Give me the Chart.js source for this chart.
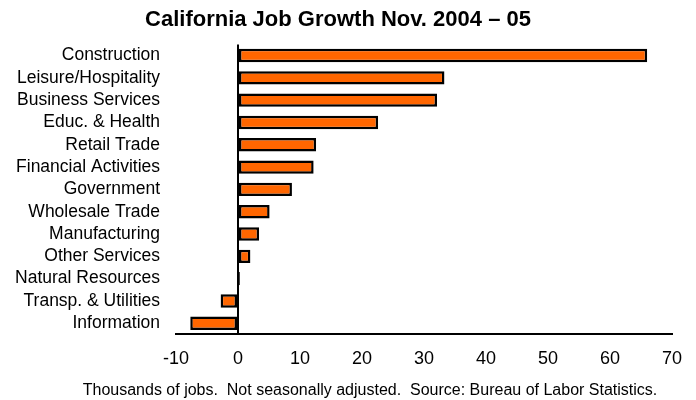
<!DOCTYPE html>
<html lang="en">
<head>
    <meta charset="UTF-8">
    <title>California Job Growth Nov. 2004 – 05</title>
    <script src="https://cdn.jsdelivr.net/npm/chart.js"></script>
    <style>
        html, body { margin: 0; padding: 0; background: #fff; }
        #wrap { width: 696px; height: 400px; }
    </style>
</head>
<body>
    <div id="wrap"><canvas id="jobChart"></canvas></div>
    <script>
        // Sectors and job change (thousands)
        const sectors = [
            'Construction', 'Leisure/Hospitality', 'Business Services', 'Educ. & Health',
            'Retail Trade', 'Financial Activities', 'Government', 'Wholesale Trade',
            'Manufacturing', 'Other Services', 'Natural Resources', 'Transp. & Utilities',
            'Information'
        ];
        const jobChange = [66, 33.3, 32.1, 22.6, 12.6, 12.2, 8.7, 5.1, 3.4, 2.0, 0.3, -2.8, -7.7];
        const xTicks = [-10, 0, 10, 20, 30, 40, 50, 60, 70];

        const titleText = 'California Job Growth Nov. 2004 – 05';
        const footerText = 'Thousands of jobs.  Not seasonally adjusted.  Source: Bureau of Labor Statistics.';

        const fontFamily = '"Liberation Sans", Arial, sans-serif';

        // footer line below the axis
        const footerPlugin = {
            id: 'footerNote',
            afterDraw(chart) {
                const ctx = chart.ctx;
                ctx.save();
                ctx.font = '16px ' + fontFamily;
                ctx.fillStyle = '#000';
                ctx.textAlign = 'center';
                ctx.textBaseline = 'middle';
                ctx.fillText(footerText, 370, 391);
                ctx.restore();
            }
        };

        new Chart(document.getElementById('jobChart'), {
            type: 'bar',
            data: {
                labels: sectors,
                datasets: [{
                    data: jobChange,
                    backgroundColor: '#FF6600',
                    borderColor: '#000',
                    borderWidth: 2.5,
                    borderSkipped: false,
                    barPercentage: 0.6,
                    categoryPercentage: 1
                }]
            },
            options: {
                indexAxis: 'y',
                responsive: true,
                maintainAspectRatio: false,
                animation: false,
                layout: { padding: { top: 0, right: 20, bottom: 16, left: 0 } },
                plugins: {
                    legend: { display: false },
                    tooltip: { enabled: false },
                    title: {
                        display: true,
                        text: titleText,
                        color: '#000',
                        font: { family: fontFamily, size: 22, weight: 'bold' },
                        padding: { top: 7, bottom: 11 }
                    }
                },
                scales: {
                    x: {
                        min: -10,
                        max: 70,
                        afterBuildTicks(axis) {
                            axis.ticks = xTicks.map(v => ({ value: v }));
                        },
                        border: { display: true, color: '#000', width: 2 },
                        grid: {
                            drawTicks: false,
                            color: ctx => (ctx.tick && ctx.tick.value === 0) ? '#000' : 'rgba(0,0,0,0)',
                            lineWidth: 2
                        },
                        ticks: {
                            color: '#000',
                            padding: 14,
                            font: { family: fontFamily, size: 18 }
                        }
                    },
                    y: {
                        afterFit(axis) { axis.width = 176; },
                        border: { display: false },
                        grid: { display: false, drawTicks: false },
                        ticks: {
                            color: '#000',
                            padding: 16,
                            autoSkip: false,
                            font: { family: fontFamily, size: 17.5 }
                        }
                    }
                }
            },
            plugins: [footerPlugin]
        });
    </script>
</body>
</html>
